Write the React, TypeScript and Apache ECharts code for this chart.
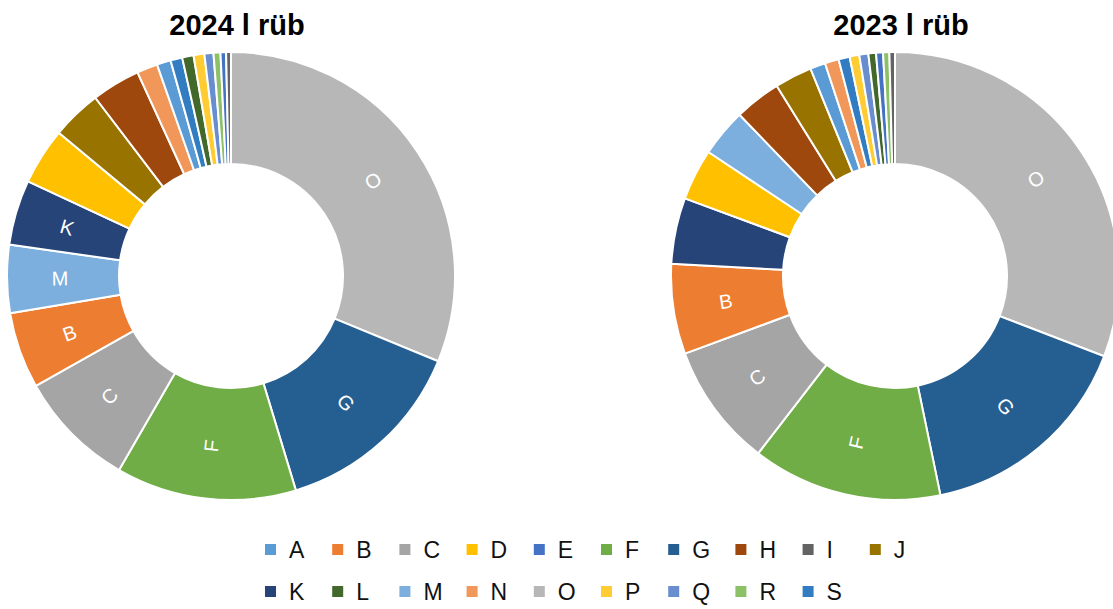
import React, { useEffect, useRef } from "react";
import * as echarts from "echarts";

const categories = ["A", "B", "C", "D", "E", "F", "G", "H", "I", "J", "K", "L", "M", "N", "O", "P", "Q", "R", "S"];
const colors = ["#5B9BD5", "#ED7D31", "#A5A5A5", "#FFC000", "#4472C4", "#70AD47", "#255E91", "#9E480E", "#636363", "#997300", "#264478", "#43682B", "#7CAFDD", "#F1975A", "#B7B7B7", "#FFCD33", "#698ED0", "#8CC168", "#327DC2"];
// share in % (A..S)
const values2024 = [1.0, 5.5, 8.5, 4.1, 0.4, 13.0, 14.1, 3.5, 0.35, 3.6, 4.7, 0.82, 4.9, 1.5, 31.2, 0.78, 0.65, 0.5, 0.85];
const values2023 = [1.1, 6.5, 8.9, 3.7, 0.5, 13.7, 15.9, 3.35, 0.4, 2.7, 4.75, 0.55, 3.45, 1.0, 30.8, 0.7, 0.65, 0.45, 0.8];
const labeled2024 = ["O", "G", "F", "C", "B", "M", "K"];
const labeled2023 = ["O", "G", "F", "C", "B"];
const titles = ["2024 l rüb", "2023 l rüb"];
const legendPerRow = 10;

const FONT = "'Liberation Sans', Arial, sans-serif";

function buildData(values: number[], labeled: string[]) {
  const items = categories.map((c, i) => ({
    name: c,
    value: values[i],
    itemStyle: { color: colors[i] },
    label: { show: labeled.includes(c) },
  }));
  return items.sort((a, b) => b.value - a.value);
}

export default function App() {
  const ref = useRef<HTMLDivElement>(null);
  useEffect(() => {
    document.body.style.margin = "0";
    if (!ref.current) return;
    const chart = echarts.init(ref.current, undefined, { renderer: "svg" });
    const pieBase = {
      type: "pie",
      radius: [112, 224],
      startAngle: 90,
      clockwise: true,
      avoidLabelOverlap: false,
      itemStyle: { borderColor: "#ffffff", borderWidth: 2 },
      label: {
        position: "inside",
        rotate: "radial",
        formatter: "{b}",
        color: "#ffffff",
        fontSize: 20,
        fontFamily: FONT,
      },
      labelLine: { show: false },
      emphasis: { disabled: true },
    };
    // one legend per entry so that entries sit on a fixed grid (2 rows)
    const legends = categories.map((name, i) => ({
      left: 258 + (i % legendPerRow) * 67.2,
      top: 533 + Math.floor(i / legendPerRow) * 42,
      icon: "rect",
      itemWidth: 13,
      itemHeight: 13,
      selectedMode: false,
      textStyle: { fontSize: 23, fontFamily: FONT, color: "#111111", padding: [0, 0, 0, 7] },
      data: [name],
    }));
    const titleStyle = { fontSize: 29, fontWeight: "bold", fontFamily: FONT, color: "#000" };
    chart.setOption({
      animation: false,
      title: [
        { text: titles[0], left: 232, top: 5, textAlign: "center", textStyle: titleStyle },
        { text: titles[1], left: 896, top: 5, textAlign: "center", textStyle: titleStyle },
      ],
      legend: legends,
      series: [
        { ...pieBase, name: "2024", center: [231, 276], data: buildData(values2024, labeled2024) },
        { ...pieBase, name: "2023", center: [895, 276], data: buildData(values2023, labeled2023) },
      ],
    });
    return () => chart.dispose();
  }, []);
  return <div ref={ref} style={{ width: 1113, height: 609 }} />;
}
